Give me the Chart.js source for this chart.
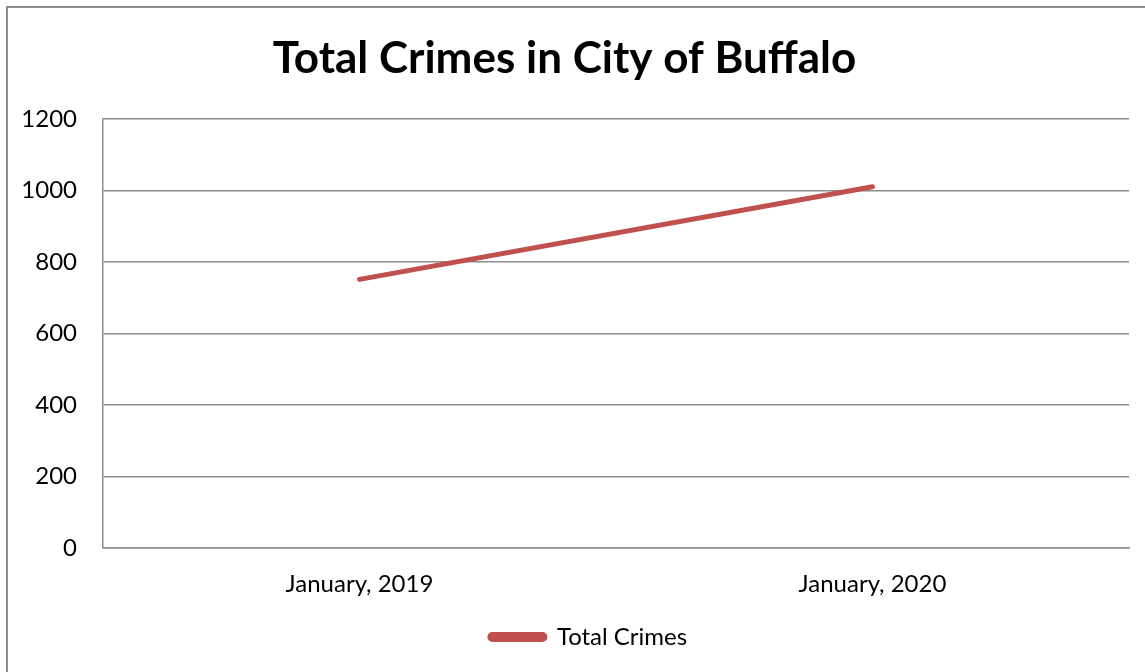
<!DOCTYPE html>
<html>
<head>
<meta charset="utf-8">
<script src="https://cdn.jsdelivr.net/npm/chart.js@4"></script>
<style>
  html, body { margin: 0; padding: 0; background: #fff; overflow: hidden; }
  #frame {
    position: absolute; left: 6px; top: 6px;
    width: 1200px; height: 720px;
    border: 2px solid #8c8c8c;
  }
  #wrap { position: absolute; left: 0; top: 0; width: 1145px; height: 672px; }
</style>
</head>
<body>
<div id="frame"></div>
<div id="wrap"><canvas id="crimeChart"></canvas></div>
<script>
// Chart data
const months = ['January, 2019', 'January, 2020'];
const totalCrimes = [751, 1010];
const yTicks = [0, 200, 400, 600, 800, 1000, 1200];

const font = 'Lato, "Liberation Sans", sans-serif';
const gridGray = '#8c8c8c';

// the legend sits a bit right of centre in the original
const legendShift = {
  id: 'legendShift',
  afterLayout(chart) {
    chart.legend.left += 24;
    chart.legend.right += 24;
  }
};

const ctx = document.getElementById('crimeChart').getContext('2d');
new Chart(ctx, {
  type: 'line',
  data: {
    labels: months,
    datasets: [{
      label: 'Total Crimes',
      data: totalCrimes,
      borderColor: '#C0504D',
      backgroundColor: '#C0504D',
      borderWidth: 5,
      borderCapStyle: 'round',
      pointRadius: 0,
      tension: 0
    }]
  },
  options: {
    responsive: true,
    maintainAspectRatio: false,
    animation: false,
    layout: { padding: { left: 0, right: 16, top: 0, bottom: 13 } },
    scales: {
      x: {
        offset: true,
        grid: { display: false, drawTicks: false },
        border: { display: true, color: gridGray, width: 1.5 },
        ticks: { color: '#000', padding: 22, maxRotation: 0, font: { family: font, size: 24 } },
        afterFit: scale => { scale.height = 67; }
      },
      y: {
        min: 0,
        max: 1200,
        afterBuildTicks: scale => { scale.ticks = yTicks.map(v => ({ value: v })); },
        grid: { color: gridGray, lineWidth: 1.5, drawTicks: false },
        border: { display: true, color: gridGray, width: 1.5 },
        ticks: {
          color: '#000',
          padding: 26,
          font: { family: font, size: 24 },
          callback: value => String(value)
        },
        afterFit: scale => { scale.width = 103; }
      }
    },
    plugins: {
      title: {
        display: true,
        text: 'Total Crimes in City of Buffalo',
        color: '#000',
        font: { family: font, size: 44, weight: 'bold' },
        padding: { top: 32, bottom: 34 }
      },
      legend: {
        position: 'bottom',
        labels: {
          color: '#000',
          boxWidth: 55,
          boxHeight: 5,
          useBorderRadius: true,
          borderRadius: 2.5,
          padding: 10,
          font: { family: font, size: 24 }
        }
      },
      tooltip: { enabled: false }
    }
  },
  plugins: [legendShift]
});
</script>
</body>
</html>
